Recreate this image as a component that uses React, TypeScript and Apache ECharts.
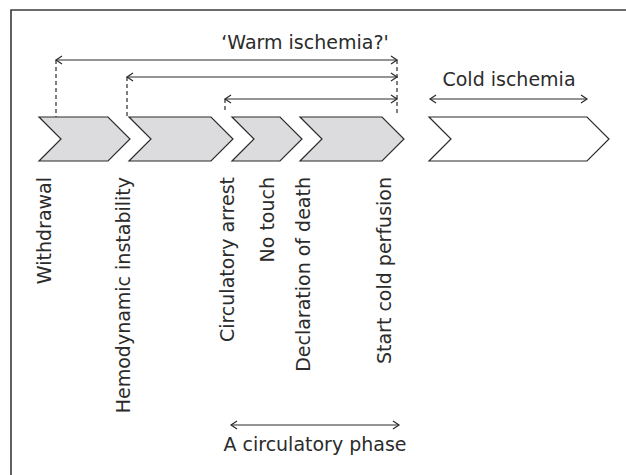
import React, { useEffect, useRef } from "react";
import * as echarts from "echarts";

// Timeline stages (chevrons): start and end of each body along the time axis
const stageStart = [39, 129, 232, 300, 429];
const stageEnd = [108, 211, 280, 382, 587];
const stageFilled = [1, 1, 1, 1, 0];

// Events (vertical labels) and their time positions
const eventLabels = [
  "Withdrawal",
  "Hemodynamic instability",
  "Circulatory arrest",
  "No touch",
  "Declaration of death",
  "Start cold perfusion",
];
const eventTime = [43, 122, 226, 266, 302, 383];

// 'Warm ischemia?' spans: start time (event) to start of cold perfusion
const warmStart = [56, 127, 225];
const warmEnd = [397, 397, 397];
const warmLevel = [60, 77, 99];

// Other spans
const coldSpan = [430, 587];
const agonalSpan = [231, 399];

const FONT = '19px "DejaVu Sans"';
const INK = "#2b2b2b";
const TOP = 117;
const BOT = 161;
const MID = 139;
const DEPTH = 22;

function arrowShapes(api: any, x1: number, x2: number, y: number) {
  const a = api.coord([x1, y]);
  const b = api.coord([x2, y]);
  const h = 6;
  const w = 4;
  const st = { stroke: INK, lineWidth: 1.2, fill: "none" };
  return [
    { type: "line", shape: { x1: a[0], y1: a[1], x2: b[0], y2: b[1] }, style: st },
    {
      type: "polyline",
      shape: { points: [[a[0] + h, a[1] - w], [a[0], a[1]], [a[0] + h, a[1] + w]] },
      style: st,
    },
    {
      type: "polyline",
      shape: { points: [[b[0] - h, b[1] - w], [b[0], b[1]], [b[0] - h, b[1] + w]] },
      style: st,
    },
  ];
}

export default function App() {
  const ref = useRef<HTMLDivElement>(null);
  useEffect(() => {
    document.body.style.margin = "0";
    if (!ref.current) return;
    const chart = echarts.init(ref.current, undefined, { renderer: "svg" });

    const stageData = stageStart.map((s, i) => [s, stageEnd[i], stageFilled[i]]);
    const eventData = eventLabels.map((l, i) => [eventTime[i], l]);
    const warmData = warmStart.map((s, i) => [s, warmEnd[i], warmLevel[i]]);

    chart.setOption({
      animation: false,
      grid: { left: 0, right: 0, top: 0, bottom: 0 },
      xAxis: { type: "value", min: 0, max: 626, show: false },
      yAxis: { type: "value", min: 0, max: 475, inverse: true, show: false },
      graphic: [
        {
          type: "rect",
          shape: { x: 11, y: 10, width: 700, height: 600 },
          style: { fill: "none", stroke: "#3a3a3a", lineWidth: 1.6 },
          silent: true,
        },
      ],
      series: [
        {
          type: "custom",
          silent: true,
          data: stageData,
          renderItem: (params: any, api: any) => {
            const s = api.value(0);
            const e = api.value(1);
            const filled = api.value(2);
            const pts = [
              [s, TOP],
              [e, TOP],
              [e + DEPTH, MID],
              [e, BOT],
              [s, BOT],
              [s + DEPTH, MID],
            ].map((p) => api.coord(p));
            return {
              type: "polygon",
              shape: { points: pts },
              style: {
                fill: filled ? "#dcdcde" : "#ffffff",
                stroke: INK,
                lineWidth: 1.2,
              },
            };
          },
        },
        {
          type: "custom",
          silent: true,
          data: eventData,
          renderItem: (params: any, api: any) => {
            const x = api.value(0);
            const p = api.coord([x, 177]);
            return {
              type: "text",
              x: p[0] + 1,
              y: p[1],
              rotation: Math.PI / 2,
              style: {
                text: eventLabels[params.dataIndex],
                font: FONT,
                fill: INK,
                align: "right",
                verticalAlign: "middle",
              },
            };
          },
        },
        {
          type: "custom",
          silent: true,
          data: warmData,
          renderItem: (params: any, api: any) => {
            const s = api.value(0);
            const e = api.value(1);
            const y = api.value(2);
            const children: any[] = arrowShapes(api, s, e, y);
            const d0 = api.coord([s, y]);
            const d1 = api.coord([s, params.dataIndex === 2 ? 113 : TOP]);
            children.push({
              type: "line",
              shape: { x1: d0[0], y1: d0[1], x2: d1[0], y2: d1[1] },
              style: { stroke: INK, lineWidth: 1.2, lineDash: [4, 3] },
            });
            if (params.dataIndex === 0) {
              const r0 = api.coord([e, y]);
              const r1 = api.coord([e, 116]);
              children.push({
                type: "line",
                shape: { x1: r0[0], y1: r0[1], x2: r1[0], y2: r1[1] },
                style: { stroke: INK, lineWidth: 1.2, lineDash: [4, 3] },
              });
              const t = api.coord([305, 42]);
              children.push({
                type: "text",
                x: t[0],
                y: t[1],
                style: {
                  text: "\u2018Warm ischemia?'",
                  font: FONT,
                  fill: INK,
                  align: "center",
                  verticalAlign: "middle",
                },
              });
            }
            return { type: "group", children };
          },
        },
        {
          type: "custom",
          silent: true,
          data: [
            [coldSpan[0], coldSpan[1], 99, 509, 79],
            [agonalSpan[0], agonalSpan[1], 425, 315, 444],
          ],
          renderItem: (params: any, api: any) => {
            const s = api.value(0);
            const e = api.value(1);
            const y = api.value(2);
            const t = api.coord([api.value(3), api.value(4)]);
            const children: any[] = arrowShapes(api, s, e, y);
            children.push({
              type: "text",
              x: t[0],
              y: t[1],
              style: {
                text: params.dataIndex === 0 ? "Cold ischemia" : "A circulatory phase",
                font: FONT,
                fill: INK,
                align: "center",
                verticalAlign: "middle",
              },
            });
            return { type: "group", children };
          },
        },
      ],
    });
    return () => chart.dispose();
  }, []);
  return <div ref={ref} style={{ width: 626, height: 475 }} />;
}
